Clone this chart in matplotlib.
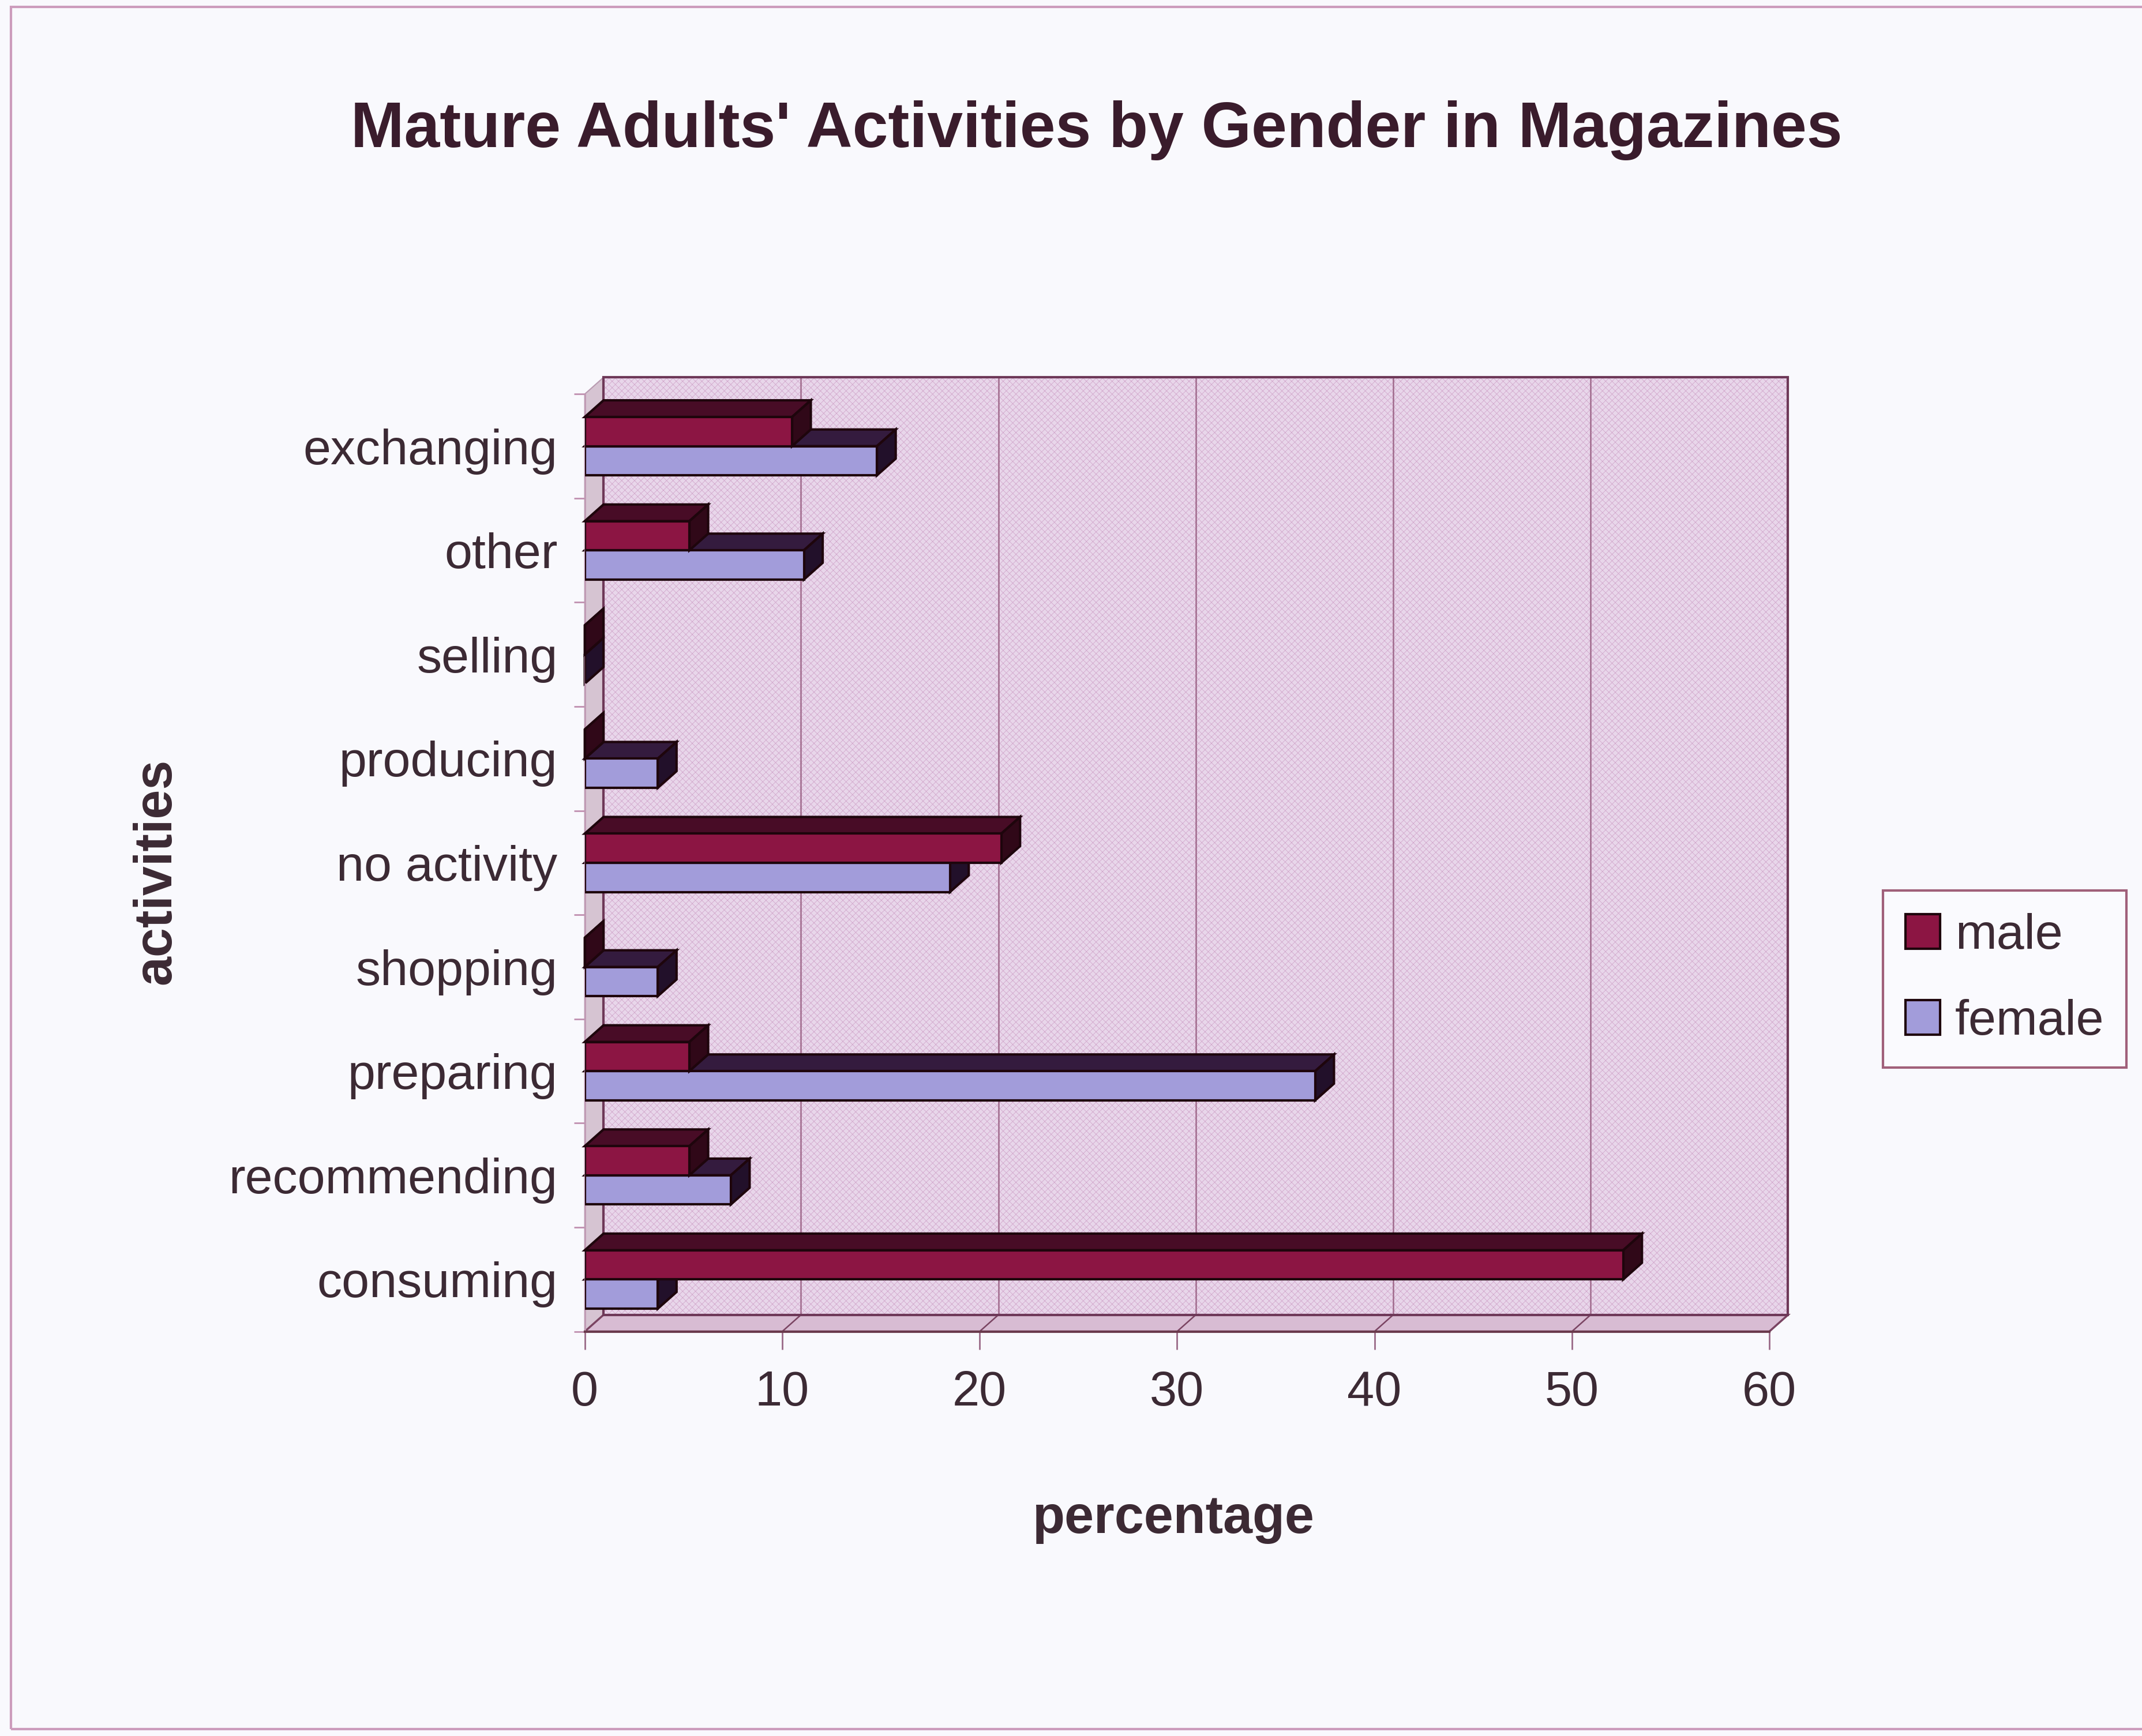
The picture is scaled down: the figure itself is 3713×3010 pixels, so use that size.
import numpy as np
import matplotlib.pyplot as plt
from matplotlib.patches import Polygon, Patch, Rectangle
from matplotlib.lines import Line2D

activities = ["consuming", "recommending", "preparing", "shopping", "no activity",
              "producing", "selling", "other", "exchanging"]
male = [52.6, 5.3, 5.3, 0, 21.1, 0, 0, 5.3, 10.5]
female = [3.7, 7.4, 37.0, 3.7, 18.5, 3.7, 0, 11.1, 14.8]
xticks = [0, 10, 20, 30, 40, 50, 60]

plt.rcParams['font.family'] = ['Liberation Sans', 'DejaVu Sans']
plt.rcParams['hatch.linewidth'] = 0.6

text_col = '#3c2a34'

fig = plt.figure(figsize=(37.13, 30.10), dpi=100, facecolor='#f9f9fd')
ax = fig.add_axes([0.273, 0.233, 0.553, 0.540])
ax.set_xlim(0, 60)
ax.set_ylim(-0.5, 8.5)
ax.patch.set_visible(False)

# depth of the 3-D box in data units
dx, dy = 0.95, 0.16
xmax = xticks[-1]
y0, y1 = -0.5, len(activities) - 0.5

# back wall with fine texture
wall = [(dx, y0 + dy), (xmax + dx, y0 + dy), (xmax + dx, y1 + dy), (dx, y1 + dy)]
ax.add_patch(Polygon(wall, closed=True, facecolor='#e8d6ea', edgecolor='none',
                     clip_on=False, zorder=0))
ax.add_patch(Polygon(wall, closed=True, facecolor='none', edgecolor='#d2a8cc',
                     hatch='xxx', lw=0, clip_on=False, zorder=0.1))
# left side wall and floor
side = [(0, y0), (dx, y0 + dy), (dx, y1 + dy), (0, y1)]
ax.add_patch(Polygon(side, closed=True, facecolor='#d6c4d2', edgecolor='#b89ab0',
                     lw=1.5, clip_on=False, zorder=0.2))
floor = [(0, y0), (xmax, y0), (xmax + dx, y0 + dy), (dx, y0 + dy)]
ax.add_patch(Polygon(floor, closed=True, facecolor='#d8bcd3', edgecolor='#7a4462',
                     lw=2.5, clip_on=False, zorder=0.2))

# gridlines on the wall and their runs across the floor
for v in xticks[1:]:
    ax.add_line(Line2D([v + dx, v + dx], [y0 + dy, y1 + dy], color='#a06a8c',
                       lw=1.8, clip_on=False, zorder=0.3))
    ax.add_line(Line2D([v, v + dx], [y0, y0 + dy], color='#7a4462',
                       lw=1.8, clip_on=False, zorder=0.3))
ax.add_patch(Polygon(wall, closed=True, facecolor='none', edgecolor='#6e3858',
                     lw=3, clip_on=False, zorder=0.4))

y = np.arange(len(activities))
h = 0.28
edge = '#1e050c'


def draw_bars(vals, base, front, top, end, z):
    ax.barh(base + h / 2, vals, height=h, color=front, edgecolor=edge,
            linewidth=3, zorder=z + 1)
    for b, v in zip(base, vals):
        top_face = [(0, b + h), (v, b + h), (v + dx, b + h + dy), (dx, b + h + dy)]
        end_face = [(v, b), (v + dx, b + dy), (v + dx, b + h + dy), (v, b + h)]
        ax.add_patch(Polygon(top_face, closed=True, facecolor=top, edgecolor=edge,
                             lw=3, clip_on=False, zorder=z))
        ax.add_patch(Polygon(end_face, closed=True, facecolor=end, edgecolor=edge,
                             lw=3, clip_on=False, zorder=z))


draw_bars(female, y - h, '#a29cda', '#341b3e', '#22102a', 2)
draw_bars(male, y, '#8c1543', '#480c26', '#300818', 4)

# axes
for s in ['top', 'right']:
    ax.spines[s].set_visible(False)
ax.spines['left'].set_color('#c09ab4')
ax.spines['left'].set_linewidth(2)
ax.spines['bottom'].set_color('#6a3a4c')
ax.spines['bottom'].set_linewidth(3)

ax.set_xticks(xticks)
ax.tick_params(axis='x', length=22, width=2, color='#9a6a88', pad=26,
               labelsize=61, labelcolor=text_col)
ax.set_yticks(np.arange(y0, y1 + 1, 1))
ax.set_yticklabels([])
ax.tick_params(axis='y', which='major', length=14, width=2, color='#c090b0')
ax.set_yticks(y, minor=True)
ax.set_yticklabels(activities, minor=True)
ax.tick_params(axis='y', which='minor', length=0, pad=34, labelsize=62,
               labelcolor=text_col)

fig.text(0.512, 0.925, "Mature Adults' Activities by Gender in Magazines",
         ha='center', va='center', fontsize=80, fontweight='bold', color='#3a1c2c')
fig.text(0.548, 0.125, 'percentage', ha='center', va='center', fontsize=66,
         fontweight='bold', color=text_col)
fig.text(0.073, 0.498, 'activities', ha='center', va='center', rotation=90,
         fontsize=66, fontweight='bold', color=text_col)

handles = [Patch(facecolor='#8c1543', edgecolor=edge, linewidth=3),
           Patch(facecolor='#a29cda', edgecolor=edge, linewidth=3)]
leg = fig.legend(handles, ['male', 'female'], loc='center',
                 bbox_to_anchor=(0.936, 0.436), fontsize=62, frameon=True,
                 fancybox=False, edgecolor='#a0607a', facecolor='#fafafe',
                 framealpha=1, handlelength=0.7, handleheight=0.7,
                 handletextpad=0.3, labelspacing=0.8, borderpad=0.45)
leg.get_frame().set_linewidth(3)
for t in leg.get_texts():
    t.set_color(text_col)

fig.add_artist(Rectangle((0.005, 0.004), 1.0, 0.992, transform=fig.transFigure,
                         fill=False, edgecolor='#cc9cbc', lw=3))

fig.savefig('out.png', dpi=100, facecolor=fig.get_facecolor())
